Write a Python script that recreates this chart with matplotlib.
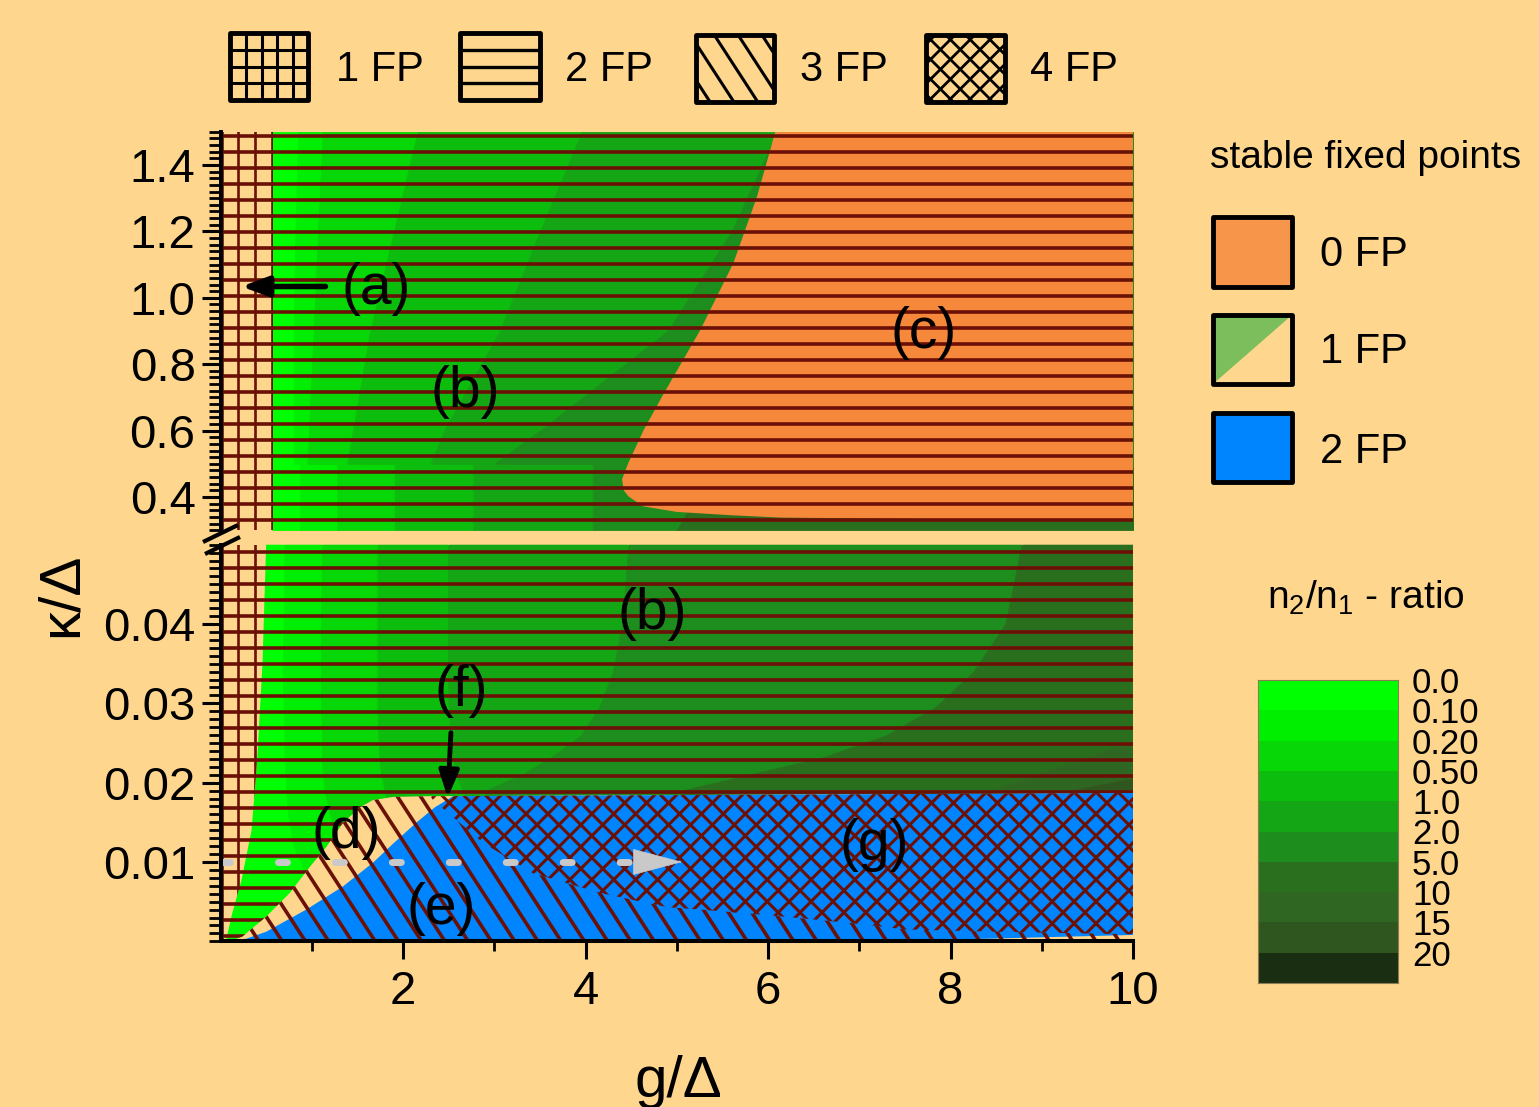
import numpy as np
import matplotlib
matplotlib.use("Agg")
import matplotlib.pyplot as plt
from matplotlib.patches import Polygon, Rectangle
from matplotlib.collections import LineCollection
from matplotlib.ticker import MultipleLocator, FormatStrFormatter, FixedLocator

plt.rcParams['font.family'] = ['Liberation Sans', 'DejaVu Sans']
plt.rcParams['mathtext.fontset'] = 'custom'
plt.rcParams['mathtext.rm'] = 'Liberation Sans'
plt.rcParams['mathtext.it'] = 'Liberation Sans:italic'
plt.rcParams['mathtext.sf'] = 'Liberation Sans'

# ------------------------------------------------------------------ data
ratio_levels = ['0.0', '0.10', '0.20', '0.50', '1.0', '2.0', '5.0', '10', '15', '20']
ratio_colors = ['#00FF00', '#00EF00', '#07D607', '#0DBD0D', '#14A614', '#1D8E1D',
                '#296F1E', '#2F6621', '#30561F', '#1A2E12']

# upper panel: kappa/Delta from 0.3 to 1.5 -- g/Delta of the ratio band edges
top_kappa = [0.30, 0.40, 0.499, 0.50, 0.60, 0.90, 1.20, 1.50]
top_b1 = [0.87, 0.87, 0.87, 0.80, 0.80, 0.80, 0.82, 0.85]
top_b2 = [1.28, 1.28, 1.28, 0.95, 0.97, 1.02, 1.07, 1.12]
top_b3 = [1.91, 1.91, 1.91, 1.39, 1.45, 1.64, 1.90, 2.16]
top_b4 = [2.77, 2.77, 2.77, 2.30, 2.45, 3.06, 3.50, 3.96]
top_b5 = [4.08, 4.08, 4.08, 3.00, 3.50, 4.90, 5.60, 6.10]
top_b6 = [5.00, 5.20, 11.0, 11.0, 11.0, 11.0, 11.0, 11.0]
top_grid_g = 0.57          # edge of the 1-FP (grid) region

# region (c): no stable fixed point
orange_g = [6.08, 5.88, 5.62, 5.26, 4.84, 4.64, 4.47, 4.40, 4.42, 4.47, 4.63,
            5.00, 5.60, 6.14, 8.00, 10.0]
orange_k = [1.50, 1.305, 1.104, 0.904, 0.703, 0.603, 0.503, 0.453, 0.420, 0.402,
            0.372, 0.355, 0.345, 0.338, 0.333, 0.330]

# lower panel: kappa/Delta from 0 to 0.05
bot_kappa = [0.0, 0.008, 0.012, 0.016, 0.019, 0.0212, 0.0232, 0.0260, 0.0295, 0.0340, 0.0400, 0.0500]
bot_b1 = [2.00, 0.95, 0.80, 0.74, 0.72, 0.71, 0.70, 0.70, 0.69, 0.68, 0.69, 0.70]
bot_b2 = [3.00, 1.60, 1.30, 1.20, 1.14, 1.12, 1.11, 1.11, 1.10, 1.10, 1.10, 1.11]
bot_b3 = [4.00, 2.20, 1.95, 1.85, 1.80, 1.76, 1.74, 1.73, 1.72, 1.72, 1.72, 1.72]
bot_b4 = [5.00, 3.00, 2.85, 2.75, 2.65, 2.58, 2.55, 2.52, 2.50, 2.49, 2.49, 2.49]
bot_b5 = [6.00, 3.20, 3.00, 2.90, 2.90, 3.33, 3.62, 3.95, 4.15, 4.30, 4.40, 4.47]
bot_b6 = [11.0, 11.0, 11.0, 5.00, 5.05, 5.86, 6.60, 7.30, 7.83, 8.25, 8.60, 8.78]
bot_b7 = [11.0, 11.0, 11.0, 8.40, 8.44, 8.97, 9.50, 10.2, 11.0, 11.0, 11.0, 11.0]
bot_b8 = [11.0, 11.0, 11.0, 9.20, 9.30, 10.3, 11.0, 11.0, 11.0, 11.0, 11.0, 11.0]

# 1-FP (grid) region edge in lower panel
grid_g = [0.50, 0.46, 0.40, 0.34, 0.23, 0.13, 0.07, 0.06]
grid_k = [0.050, 0.035, 0.0225, 0.014, 0.0077, 0.0036, 0.0006, 0.0]
# top of region (d) (lower edge of the 2-FP green region)
dtop_g = [0.10, 0.24, 0.50, 0.76, 0.98, 1.16, 1.34, 1.53, 1.67, 1.89, 2.30]
dtop_k = [0.0, 0.0006, 0.0031, 0.0061, 0.0094, 0.0119, 0.0149, 0.0169, 0.0178, 0.0182, 0.0183]
# boundary (d)/(e): upper-left edge of the blue region
eb_g = [0.20, 0.50, 0.94, 1.34, 1.67, 1.90, 2.15, 2.35, 2.55]
eb_k = [0.0, 0.0012, 0.0040, 0.0069, 0.0099, 0.0124, 0.0150, 0.0169, 0.0183]
# top of blue region
btop_g = [2.55, 10.0]
btop_k = [0.0183, 0.0187]
# lower-left edge of the 4-FP region (g)
x4_g = [2.30, 2.33, 2.88, 3.42, 4.16, 4.90, 5.26, 6.00, 7.00, 7.50, 8.50, 10.0]
x4_k = [0.0183, 0.0178, 0.0124, 0.0086, 0.0061, 0.0043, 0.0040, 0.0033, 0.0022, 0.0015, 0.0012, 0.0009]
# thin beige strip at bottom right
strip_g = [7.30, 10.0]
strip_k = [0.0, 0.0008]

# dashed path at kappa = 0.01
path_g = [0.0, 4.55]
path_k = [0.01, 0.01]
path_tip_g = 5.06

# ------------------------------------------------------------------ style
W, H = 1539, 1107
BG = '#FED68E'
HATCH = '#6B1006'
ORANGE = '#F5883A'
BLUE = '#0085FF'
GRAY = '#C9C9C9'

fig = plt.figure(figsize=(W / 100, H / 100), dpi=100, facecolor=BG)


def px_rect(x0, y0, x1, y1):
    return [x0 / W, 1 - y1 / H, (x1 - x0) / W, (y1 - y0) / H]


ax_t = fig.add_axes(px_rect(220.5, 131.8, 1133, 530.2))
ax_b = fig.add_axes(px_rect(220.5, 544.7, 1133, 941.3))
ax_cb = fig.add_axes(px_rect(1258, 680, 1398, 983))
ax_ov = fig.add_axes([0, 0, 1, 1], zorder=5)
ax_ov.set_xlim(0, W)
ax_ov.set_ylim(H, 0)
ax_ov.axis('off')

for ax in (ax_t, ax_b):
    ax.set_facecolor(BG)
    ax.set_xlim(0, 10)
ax_t.set_ylim(0.3, 1.5)
ax_b.set_ylim(0.0, 0.05)


def poly(ax, g, k, **kw):
    return Polygon(np.column_stack([g, k]), closed=True, transform=ax.transData, **kw)


def hatch_lines(ax, clip, angle, spacing, phase, lw, color=HATCH, z=3):
    th = np.deg2rad(angle)
    d = np.array([np.cos(th), np.sin(th)])
    nrm = np.array([-np.sin(th), np.cos(th)])
    L = 3000.0
    segs = []
    for k in range(-260, 261):
        p = (phase + k * spacing) * nrm
        segs.append([p - L * d, p + L * d])
    lc = LineCollection(segs, colors=color, linewidths=lw,
                        transform=ax_ov.transData, zorder=z, capstyle='butt')
    ax.add_collection(lc, autolim=False)
    if clip is not None:
        lc.set_clip_path(clip)
    return lc


def fill_bands(ax, kappa, bounds, left, right, clip=None):
    k = np.asarray(kappa, float)
    edges = [np.full_like(k, left)] + [np.asarray(b, float) for b in bounds] + [np.full_like(k, right)]
    for i in range(len(edges) - 1):
        lo = np.minimum(edges[i], right)
        hi = np.minimum(np.maximum(edges[i + 1], edges[i]), right)
        pc = ax.fill_betweenx(k, lo, hi, facecolor=ratio_colors[i], edgecolor=ratio_colors[i],
                              linewidth=0.6, zorder=1)
        if clip is not None:
            pc.set_clip_path(clip)


H_SP, H_PH = 16.0, 136.0       # horizontal hatch spacing / phase (pixels)
V_SP, V_PH = 16.7, 221.6
LW_H = 2.6
LW_V = 1.9

# ---------------- upper panel
fill_bands(ax_t, top_kappa, [top_b1, top_b2, top_b3, top_b4, top_b5, top_b6], top_grid_g, 10.5)
ax_t.add_patch(Polygon(np.column_stack([orange_g + [10.0], orange_k + [1.5]]), closed=True,
                       facecolor=ORANGE, edgecolor='none', zorder=2))
grid_clip_t = poly(ax_t, [0, top_grid_g, top_grid_g, 0], [0.3, 0.3, 1.5, 1.5])
hatch_lines(ax_t, None, 0, H_SP, H_PH, LW_H)
hatch_lines(ax_t, grid_clip_t, -90, V_SP, V_PH, LW_V)

# ---------------- lower panel
green_g = grid_g + dtop_g + btop_g + [10.0]
green_k = grid_k + dtop_k + btop_k + [0.05]
green_clip = poly(ax_b, green_g, green_k)
fill_bands(ax_b, bot_kappa, [bot_b1, bot_b2, bot_b3, bot_b4, bot_b5, bot_b6, bot_b7, bot_b8],
           0.0, 10.5, clip=green_clip)

blue_g = eb_g + btop_g[1:] + strip_g[::-1]
blue_k = eb_k + btop_k[1:] + strip_k[::-1]
ax_b.add_patch(Polygon(np.column_stack([blue_g, blue_k]), closed=True,
                       facecolor=BLUE, edgecolor='none', zorder=2))

hor_clip = poly(ax_b, [0.0, 0.0] + dtop_g + btop_g + [10.0], [0.05, 0.0] + dtop_k + btop_k + [0.05])
grid_clip_b = poly(ax_b, [0.0] + grid_g + [0.0], [0.05] + grid_k + [0.0])
fp3_clip = poly(ax_b, dtop_g + x4_g + [10.0], dtop_k + x4_k + [0.0])
fp4_clip = poly(ax_b, x4_g + btop_g[::-1], x4_k + btop_k[::-1])

hatch_lines(ax_b, hor_clip, 0, H_SP, H_PH, LW_H)
hatch_lines(ax_b, grid_clip_b, -90, V_SP, V_PH, LW_V)
hatch_lines(ax_b, fp3_clip, 57, 19.5, 3.0, 2.6)
hatch_lines(ax_b, fp4_clip, 45, 15.5, 2.0, 2.2)
hatch_lines(ax_b, fp4_clip, -45, 15.5, 2.0, 2.2)

# dashed grey path with arrow head
ax_b.plot(path_g, path_k, color=GRAY, lw=5, dashes=(1.3, 6.9), dash_capstyle='round',
          clip_on=False, zorder=6)
ax_b.annotate('', xy=(path_tip_g, path_k[1]), xytext=(path_g[1], path_k[1]),
              arrowprops=dict(arrowstyle='-|>,head_length=1.7,head_width=0.45', color=GRAY,
                              lw=0.5, mutation_scale=20, shrinkA=0, shrinkB=0), zorder=6)

# ---------------- region labels and arrows
LBL = 41
ax_t.text(1.71, 1.027, '(a)', fontsize=LBL, ha='center', va='center', zorder=7)
ax_t.text(2.68, 0.715, '(b)', fontsize=LBL, ha='center', va='center', zorder=7)
ax_t.text(7.70, 0.894, '(c)', fontsize=LBL, ha='center', va='center', zorder=7)
ax_b.text(4.73, 0.0413, '(b)', fontsize=LBL, ha='center', va='center', zorder=7)
ax_b.text(2.64, 0.0316, '(f)', fontsize=LBL, ha='center', va='center', zorder=7)
ax_b.text(1.38, 0.0137, '(d)', fontsize=LBL, ha='center', va='center', zorder=7)
ax_b.text(2.42, 0.0041, '(e)', fontsize=LBL, ha='center', va='center', zorder=7)
ax_b.text(7.16, 0.0122, '(g)', fontsize=LBL, ha='center', va='center', zorder=7)
ax_t.annotate('', xy=(0.23, 1.034), xytext=(1.15, 1.034),
              arrowprops=dict(arrowstyle='-|>,head_length=0.8,head_width=0.3', color='k',
                              lw=4, mutation_scale=20, shrinkA=0, shrinkB=0), zorder=7)
ax_b.annotate('', xy=(2.49, 0.0181), xytext=(2.525, 0.0263),
              arrowprops=dict(arrowstyle='-|>,head_length=0.8,head_width=0.3', color='k',
                              lw=3.5, mutation_scale=20, shrinkA=0, shrinkB=0), zorder=7)

# ---------------- axes styling
SPW = 2.9
for ax in (ax_t, ax_b):
    for s in ('top', 'right'):
        ax.spines[s].set_visible(False)
    ax.spines['left'].set_linewidth(SPW)
    ax.spines['left'].set_zorder(8)
    ax.tick_params(axis='y', which='major', length=14, width=2.2, direction='out',
                   labelsize=34, pad=4)
    ax.tick_params(axis='y', which='minor', length=8.5, width=2.0, direction='out')
ax_t.spines['bottom'].set_visible(False)
ax_t.set_xticks([])
ax_t.yaxis.set_major_locator(FixedLocator([0.4, 0.6, 0.8, 1.0, 1.2, 1.4]))
ax_t.yaxis.set_minor_locator(MultipleLocator(0.02))
ax_t.yaxis.set_major_formatter(FormatStrFormatter('%.1f'))

ax_b.spines['bottom'].set_linewidth(SPW)
ax_b.spines['bottom'].set_zorder(8)
ax_b.yaxis.set_major_locator(FixedLocator([0.01, 0.02, 0.03, 0.04]))
ax_b.yaxis.set_minor_locator(MultipleLocator(0.001))
ax_b.yaxis.set_major_formatter(FormatStrFormatter('%.2f'))
ax_b.xaxis.set_major_locator(FixedLocator([2, 4, 6, 8, 10]))
ax_b.xaxis.set_minor_locator(FixedLocator([1, 3, 5, 7, 9]))
ax_b.xaxis.set_major_formatter(FormatStrFormatter('%d'))
ax_b.tick_params(axis='x', which='major', length=13, width=2.2, direction='out',
                 labelsize=34, pad=8)
ax_b.tick_params(axis='x', which='minor', length=7.5, width=2.0, direction='out')

fig.text(678 / W, 1 - 1097 / H, 'g/\u0394', fontsize=42, ha='center', va='baseline')
fig.text(62 / W, 1 - 595 / H, '\u03ba/\u0394', fontsize=42, ha='center', va='center', rotation=90)

# axis break marks
ax_ov.plot([203, 238], [542, 525], color='k', lw=3, solid_capstyle='butt')
ax_ov.plot([205, 240], [554, 537], color='k', lw=3, solid_capstyle='butt')

# ---------------- colour bar of the n2/n1 ratio
for i, c in enumerate(ratio_colors):
    ax_cb.axhspan(i, i + 1, color=c, lw=0)
ax_cb.set_ylim(len(ratio_colors), 0)
ax_cb.set_xlim(0, 1)
ax_cb.set_xticks([])
ax_cb.yaxis.tick_right()
ax_cb.set_yticks(range(len(ratio_levels)))
ax_cb.set_yticklabels(ratio_levels)
ax_cb.tick_params(axis='y', length=0, labelsize=25, pad=10)
for s in ax_cb.spines.values():
    s.set_linewidth(0.8)
    s.set_edgecolor('#8C7A55')
ax_ov.text(1366, 598, r'n$_2$/n$_1$ - ratio', fontsize=28, ha='center', va='center')

# ---------------- top legend (fixed-point count hatches)
LEG = 30
top_boxes = [(230, 33, 308, 100), (460, 33, 540, 100), (696, 35, 774, 102), (926, 35, 1005, 102)]
top_labels = ['1 FP', '2 FP', '3 FP', '4 FP']
top_label_x = [336, 565, 800, 1030]
for (x0, y0, x1, y1), lab, lx in zip(top_boxes, top_labels, top_label_x):
    r = Rectangle((x0, y0), x1 - x0, y1 - y0, facecolor='none', edgecolor='k', lw=3.5,
                  joinstyle='round', zorder=4)
    ax_ov.add_patch(r)
    clip = Rectangle((x0, y0), x1 - x0, y1 - y0, transform=ax_ov.transData)
    if lab == '1 FP':
        hatch_lines(ax_ov, clip, 0, 16.8, y0, 2.2, color='k')
        hatch_lines(ax_ov, clip, -90, 15.8, x0, 2.2, color='k')
    elif lab == '2 FP':
        hatch_lines(ax_ov, clip, 0, 16.8, y0, 2.4, color='k')
    elif lab == '3 FP':
        hatch_lines(ax_ov, clip, 57, 20.0, 0.0, 2.2, color='k')
    else:
        hatch_lines(ax_ov, clip, 45, 14.0, 0.0, 2.0, color='k')
        hatch_lines(ax_ov, clip, -45, 14.0, 0.0, 2.0, color='k')
    ax_ov.text(lx, 70, lab, fontsize=LEG, ha='left', va='center')

# ---------------- right legend (stable fixed points)
ax_ov.text(1210, 158, 'stable fixed points', fontsize=28, ha='left', va='center')
sb = [(1213, 217, 1292, 287), (1213, 315, 1292, 384), (1213, 413, 1292, 482)]
sl = ['0 FP', '1 FP', '2 FP']
sy = [255, 352, 452]
for (x0, y0, x1, y1), lab, ly in zip(sb, sl, sy):
    if lab == '0 FP':
        ax_ov.add_patch(Rectangle((x0, y0), x1 - x0, y1 - y0, facecolor='#F7964A', edgecolor='none'))
    elif lab == '1 FP':
        ax_ov.add_patch(Rectangle((x0, y0), x1 - x0, y1 - y0, facecolor=BG, edgecolor='none'))
        ax_ov.add_patch(Polygon([(x0, y0), (x1, y0), (x0, y1)], closed=True,
                                facecolor='#7CBE5B', edgecolor='none'))
    else:
        ax_ov.add_patch(Rectangle((x0, y0), x1 - x0, y1 - y0, facecolor=BLUE, edgecolor='none'))
    ax_ov.add_patch(Rectangle((x0, y0), x1 - x0, y1 - y0, facecolor='none', edgecolor='k',
                              lw=3.5, joinstyle='round'))
    ax_ov.text(1320, ly, lab, fontsize=LEG, ha='left', va='center')

fig.savefig('out.png', dpi=100, facecolor=BG)
